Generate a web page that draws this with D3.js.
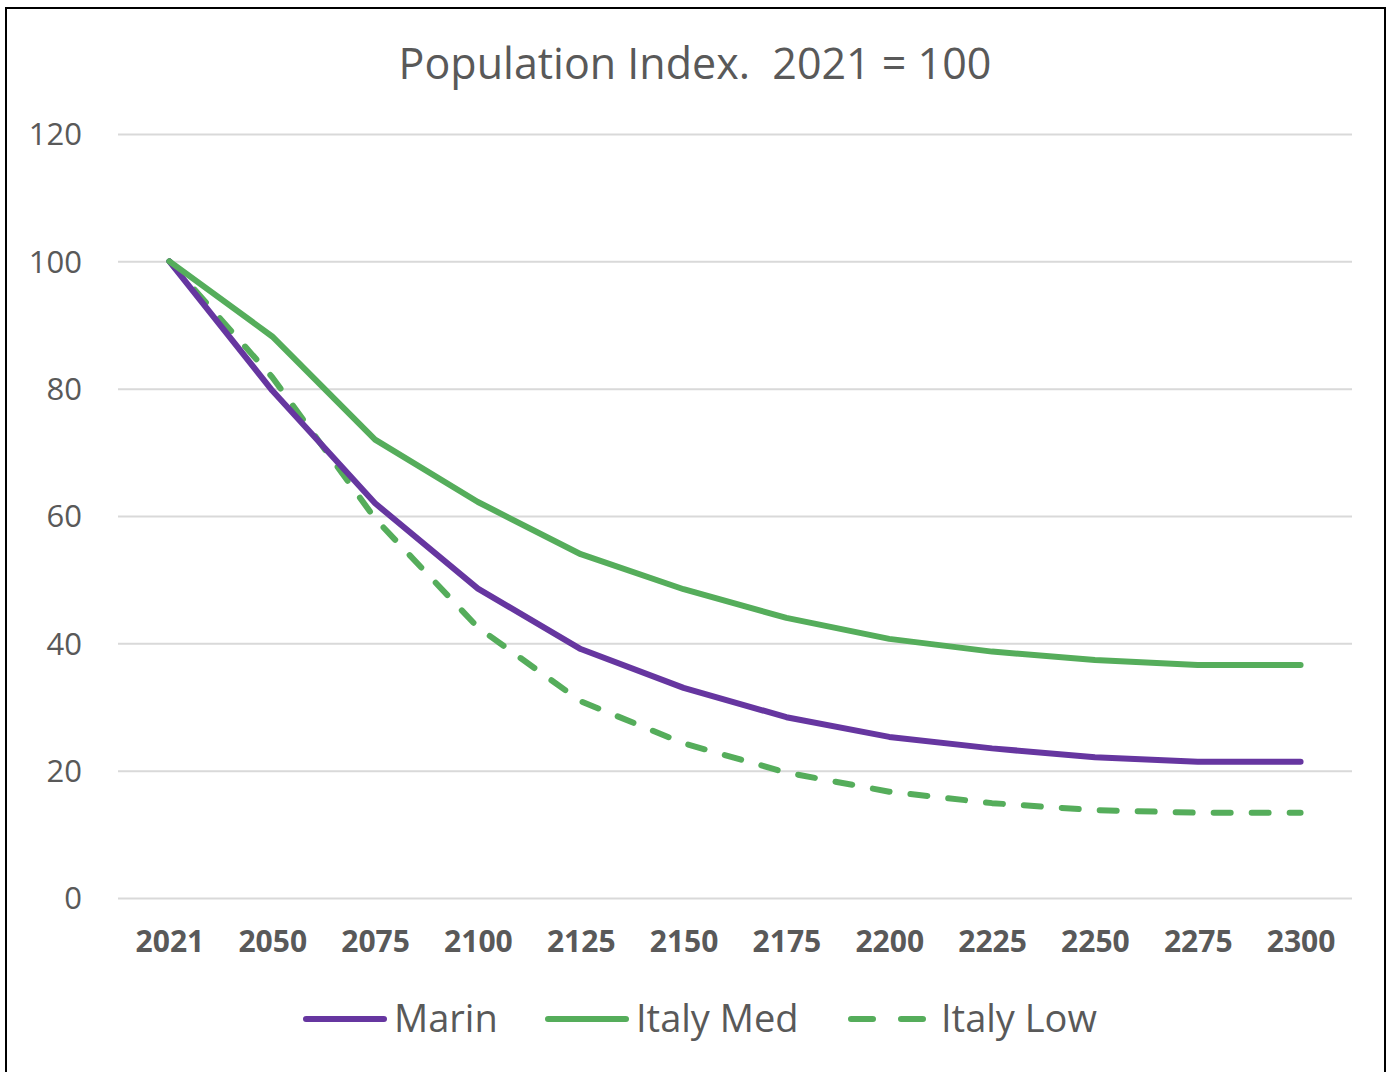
<!DOCTYPE html>
<html>
<head>
<meta charset="utf-8">
<script src="https://cdn.jsdelivr.net/npm/d3@7"></script>
<style>
  body { margin: 0; background: #fff; }
  svg { display: block; }
  text { font-family: "Open Sans", "Lato", sans-serif; fill: #595959; }
</style>
</head>
<body>
<script>
var years = ["2021", "2050", "2075", "2100", "2125", "2150", "2175", "2200", "2225", "2250", "2275", "2300"];
var marin = [100, 79.7, 62.0, 48.6, 39.1, 33.0, 28.4, 25.3, 23.5, 22.1, 21.4, 21.4];
var italyMed = [100, 88.2, 72.0, 62.2, 54.0, 48.5, 44.0, 40.7, 38.7, 37.4, 36.6, 36.6];
var italyLow = [100, 81.8, 59.6, 42.5, 30.9, 24.3, 19.7, 16.7, 14.9, 13.8, 13.4, 13.4];
var yTicks = [0, 20, 40, 60, 80, 100, 120];

var purple = "#6636a0",
    green = "#55ad5b",
    gridColor = "#d9d9d9";

var width = 1390,
    height = 1072,
    plot = { left: 118, right: 1352, top: 134, bottom: 898 };

var svg = d3.select("body").append("svg")
    .attr("width", width)
    .attr("height", height);

// outer frame
svg.append("rect")
    .attr("x", 6).attr("y", 8)
    .attr("width", 1379).attr("height", 1080)
    .attr("fill", "none")
    .attr("stroke", "#000")
    .attr("stroke-width", 2);

svg.append("text")
    .attr("x", 695).attr("y", 79)
    .attr("text-anchor", "middle")
    .style("font-size", "43px")
    .style("white-space", "pre")
    .text("Population Index.  2021 = 100");

var x = d3.scalePoint().domain(years).range([plot.left, plot.right]).padding(0.5);
var y = d3.scaleLinear().domain([0, 120]).range([plot.bottom, plot.top]);

// gridlines + y labels
var yAxis = d3.axisLeft(y).tickValues(yTicks).tickSize(-(plot.right - plot.left)).tickPadding(36);
var yg = svg.append("g")
    .attr("transform", "translate(" + plot.left + ",0)")
    .call(yAxis);
yg.select(".domain").remove();
yg.selectAll(".tick line").attr("stroke", gridColor).attr("stroke-width", 2);
yg.selectAll(".tick text").style("font-size", "31px").attr("fill", "#595959").attr("dy", "0.35em");

var xAxis = d3.axisBottom(x).tickSize(0).tickPadding(33);
var xg = svg.append("g")
    .attr("transform", "translate(0," + plot.bottom + ")")
    .call(xAxis);
xg.select(".domain").remove();
xg.selectAll(".tick text").style("font-size", "30px").style("font-weight", "bold").attr("fill", "#595959").attr("dy", "0.71em");

var series = [
    { name: "Marin", values: marin, color: purple, dash: null },
    { name: "Italy Med", values: italyMed, color: green, dash: null },
    { name: "Italy Low", values: italyLow, color: green, dash: "17,21" }
];

var line = d3.line()
    .x(function(d, i) { return x(years[i]); })
    .y(function(d) { return y(d); });

// draw dashed first so solid lines sit on top like the reference
[series[2], series[0], series[1]].forEach(function(s) {
    svg.append("path")
        .datum(s.values)
        .attr("d", line)
        .attr("fill", "none")
        .attr("stroke", s.color)
        .attr("stroke-width", 6)
        .attr("stroke-linecap", "round")
        .attr("stroke-linejoin", "round")
        .attr("stroke-dasharray", s.dash);
});

// legend
var legendX = [306, 548, 851];
var legendY = 1019;
series.forEach(function(s, i) {
    var g = svg.append("g").attr("transform", "translate(" + legendX[i] + "," + legendY + ")");
    g.append("line")
        .attr("x1", 0).attr("x2", 78)
        .attr("stroke", s.color)
        .attr("stroke-width", 6)
        .attr("stroke-linecap", "round")
        .attr("stroke-dasharray", s.dash ? "22,28" : null);
    g.append("text")
        .attr("x", s.dash ? 90 : 88)
        .attr("dy", "0.35em")
        .style("font-size", "38px")
        .text(s.name);
});
</script>
</body>
</html>
